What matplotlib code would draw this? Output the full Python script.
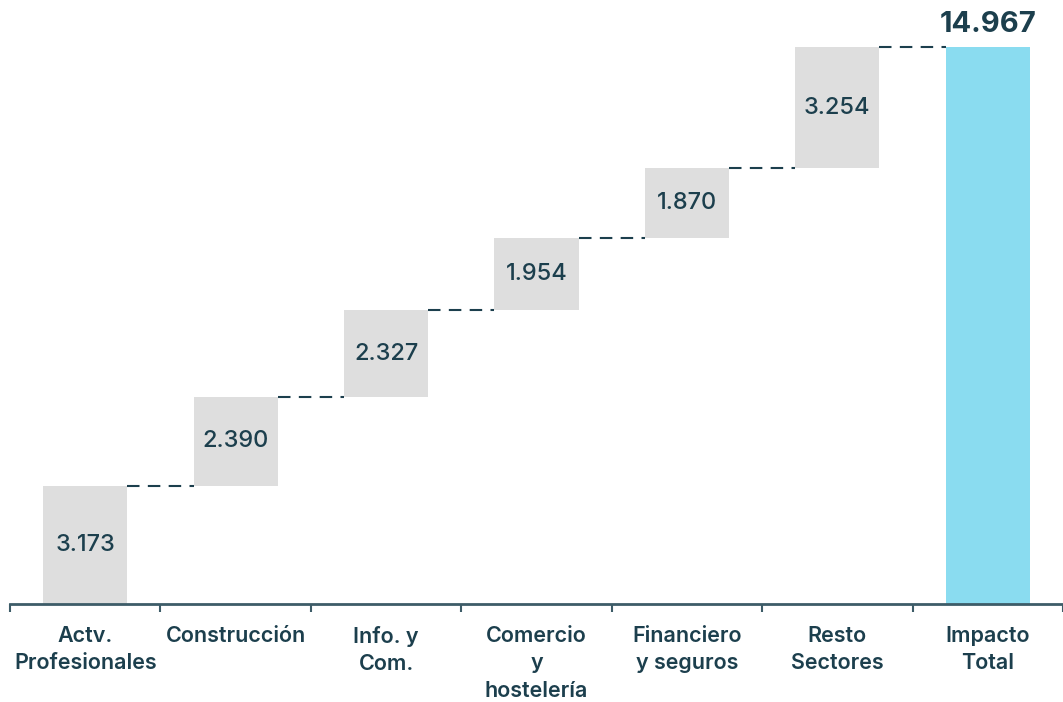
import numpy as np
import matplotlib.pyplot as plt
import matplotlib

matplotlib.rcParams['font.family'] = ['Inter', 'DejaVu Sans']

# data
categories = ['Actv.\nProfesionales', 'Construcción', 'Info. y\nCom.', 'Comercio\ny\nhostelería',
              'Financiero\ny seguros', 'Resto\nSectores', 'Impacto\nTotal']
values = [3173, 2390, 2327, 1954, 1870, 3254]
total = 14967
value_labels = ['3.173', '2.390', '2.327', '1.954', '1.870', '3.254']
total_label = '14.967'

text_color = '#1c3f4d'
gray = '#dedede'
blue = '#8adcf0'

fig = plt.figure(figsize=(10.63, 7.02), dpi=100)
ax = fig.add_axes([10 / 1063, 1 - 604 / 702, 1 - 10 / 1063, 604 / 702])

n = len(categories)
x = np.arange(n)
width = 0.56
bottoms = np.concatenate(([0], np.cumsum(values)[:-1]))

ax.bar(x[:-1], values, bottom=bottoms, width=width, color=gray, linewidth=0)
ax.bar(x[-1], total, width=width, color=blue, linewidth=0)

# connectors
tops = np.cumsum(values)
for i, t in enumerate(tops):
    ax.plot([x[i] + width / 2, x[i + 1] - width / 2], [t, t], color=text_color,
            linewidth=1.5, dashes=(6, 4))

# value labels
for i, (b, v, lab) in enumerate(zip(bottoms, values, value_labels)):
    ax.text(x[i], b + v / 2, lab, ha='center', va='center', fontsize=17,
            color=text_color, fontweight='medium')
ax.text(x[-1], total + 250, total_label, ha='center', va='bottom', fontsize=21,
        color=text_color, fontweight='bold')

ax.set_xlim(-0.5, n - 0.5)
ax.set_ylim(0, total * 604 / 557)

for s in ['left', 'top', 'right']:
    ax.spines[s].set_visible(False)
ax.spines['bottom'].set_color('#3d5c68')
ax.spines['bottom'].set_linewidth(2)
ax.set_yticks([])

# ticks at boundaries, labels centred
ax.set_xticks(np.arange(n + 1) - 0.5)
ax.set_xticklabels([])
ax.tick_params(axis='x', which='major', length=6, width=1.5, color='#3d5c68')
ax.set_xticks(x, minor=True)
ax.set_xticklabels(categories, minor=True, fontsize=15.5, color=text_color,
                   fontweight='semibold', linespacing=1.45)
ax.tick_params(axis='x', which='minor', length=0, pad=16)

fig.savefig('out.png', dpi=100)
